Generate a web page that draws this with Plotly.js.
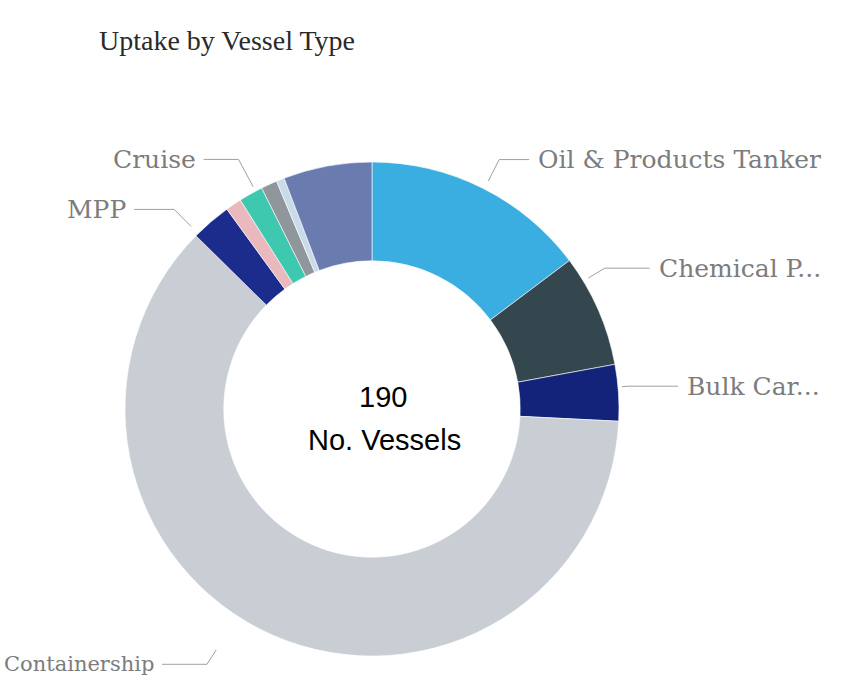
<!DOCTYPE html>
<html>
<head>
<meta charset="utf-8">
<script src="https://cdn.plot.ly/plotly-3.0.1.min.js"></script>
<style>body{margin:0;background:#fff}#chart{width:854px;height:688px}</style>
</head>
<body>
<div id="chart"></div>
<script>
// ---- data ----
const categories = ["Oil & Products Tanker","Chemical Products Tanker","Bulk Carrier","Containership","MPP","Ro-Ro","Gas Carrier","Cruise","Ferry","Other"];
const vessels    = [28, 14, 7, 117, 5, 2, 3, 2, 1, 11];
const sliceColors = ["#3aaee0","#34474f","#13237a","#c9ced4","#1b2c8c","#e9b9bd","#3ec8b0","#8f979d","#c9dbe9","#6a7bb0"];
const shownLabels = {"Oil & Products Tanker":"Oil & Products Tanker","Chemical Products Tanker":"Chemical P...","Bulk Carrier":"Bulk Car...","Containership":"Containership","MPP":"MPP","Cruise":"Cruise"};
const centerValue = "190";
const centerLabel = "No. Vessels";
const chartTitle = "Uptake by Vessel Type";

// ---- geometry / label styling (not data) ----
const W = 854, H = 688;
const CX = 372, CY = 409, R = 247;
const px = x => x / W, py = y => 1 - y / H;
// leader-line placement tweaks relative to each slice's mid angle (degrees / px)
const leader = {
  "Oil & Products Tanker":   {dAng: 0.5, rStart: 9, rElbow: 33, seg: 30, size: 25},
  "Chemical Products Tanker":{dAng: -7.5, rStart: 6, rElbow: 25, seg: 45, size: 25},
  "Bulk Carrier":            {dAng: -1.3, rStart: 4, rElbow: 10, seg: 50, size: 25},
  "Containership":           {dAng: 9.2, rStart: 40, rElbow: 57, seg: 45, size: 21},
  "MPP":                     {dAng: -4, rStart: 10, rElbow: 34, seg: 40, size: 25},
  "Cruise":                  {dAng: -3.5, rStart: 5, rElbow: 36, seg: 35, size: 25}
};

const total = vessels.reduce((a,b)=>a+b,0);
const shapes = [], annotations = [];
let acc = 0;
categories.forEach((c,i)=>{
  const a0 = acc / total * 360;
  acc += vessels[i];
  const a1 = acc / total * 360;
  if(!(c in shownLabels)) return;
  const L = leader[c];
  const m = ((a0+a1)/2 + L.dAng) * Math.PI/180;
  const s = Math.sin(m), co = Math.cos(m);
  const r1 = R + L.rStart, r2 = R + L.rElbow;
  const x1 = CX + r1*s, y1 = CY - r1*co;
  const x2 = CX + r2*s, y2 = CY - r2*co;
  const right = s >= 0;
  const x3 = right ? x2 + L.seg : x2 - L.seg;
  shapes.push({type:'path', xref:'paper', yref:'paper',
    path:`M ${px(x1)},${py(y1)} L ${px(x2)},${py(y2)} L ${px(x3)},${py(y2)}`,
    line:{color:'#a0a0a0', width:1}});
  annotations.push({xref:'paper', yref:'paper', x:px(right ? x3+7 : x3-6), y:py(y2),
    xanchor: right ? 'left':'right', yanchor:'middle', showarrow:false,
    text: shownLabels[c], font:{family:'DejaVu Serif', size:L.size, color:'#7c7c7c'}});
});
annotations.push({xref:'paper', yref:'paper', x:px(383), y:py(397), xanchor:'center', yanchor:'middle',
  showarrow:false, text:centerValue, font:{family:'Liberation Sans, Arial', size:29, color:'#000'}});
annotations.push({xref:'paper', yref:'paper', x:px(384), y:py(440), xanchor:'center', yanchor:'middle',
  showarrow:false, text:centerLabel, font:{family:'Liberation Sans, Arial', size:29, color:'#000'}});

const trace = {
  type:'pie', labels:categories, values:vessels, hole:0.6, sort:false,
  direction:'clockwise', rotation:0, textinfo:'none', hoverinfo:'label+value',
  marker:{colors:sliceColors, line:{color:'#ffffff', width:0.6}},
  domain:{x:[px(CX-R), px(CX+R)], y:[py(CY+R), py(CY-R)]}
};
const layout = {
  width:W, height:H, margin:{l:0,r:0,t:0,b:0}, showlegend:false,
  paper_bgcolor:'#fff',
  title:{text:chartTitle, x:px(227), xanchor:'center', xref:'paper', y:py(40), yref:'container', yanchor:'middle',
    font:{family:'Liberation Serif', size:28, color:'#2a2a2a'}},
  shapes:shapes, annotations:annotations
};
Plotly.newPlot('chart',[trace],layout,{displayModeBar:false, staticPlot:true});
</script>
</body>
</html>
